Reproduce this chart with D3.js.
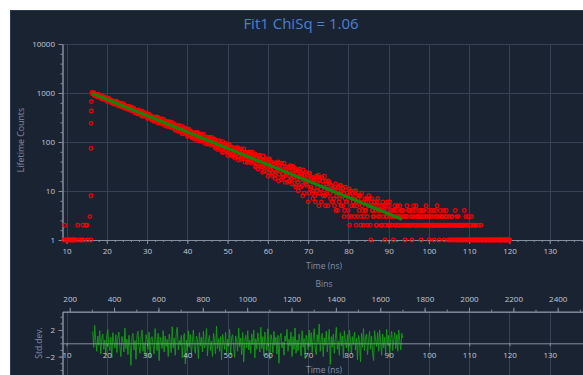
<!DOCTYPE html>
<html>
<head>
<meta charset="utf-8">
<script src="https://cdn.jsdelivr.net/npm/d3@7"></script>
<style>
  body { margin: 0; background: #fff; }
  svg { display: block; font-family: "Open Sans", sans-serif; }
</style>
</head>
<body>
<svg id="chart" width="583" height="375"></svg>
<script>
// ---- data ----
const title = 'Fit1 ChiSq = 1.06';
const timeTicks = [10, 20, 30, 40, 50, 60, 70, 80, 90, 100, 110, 120, 130];
const countTicks = [1, 10, 100, 1000, 10000];
const binTicks = [200, 400, 600, 800, 1000, 1200, 1400, 1600, 1800, 2000, 2200, 2400];
const residualTicks = [-2, 2];

// photon counts, one every 0.25 ns starting at 9.3 ns
const countStart = 9.3;
const countStep = 0.25;
const counts = [
  1, 2, 1, 1, 1, 1, 1, 1, 1, 1, 1, 1, 1, 0, 2, 1, 0, 1, 1, 2, 1, 0, 2, 2, 1, 0, 3, 1,
  1028, 947, 1015, 886, 932, 837, 931, 857, 876, 799, 885, 747, 793, 755, 796, 677,
  780, 688, 720, 648, 642, 677, 593, 681, 615, 665, 576, 597, 536, 594, 540, 603,
  490, 547, 511, 540, 465, 535, 458, 478, 485, 434, 484, 400, 436, 375, 443, 396,
  412, 363, 425, 335, 369, 347, 377, 300, 372, 314, 338, 292, 291, 317, 263, 325,
  283, 320, 262, 279, 240, 282, 248, 293, 218, 258, 237, 258, 210, 259, 209, 224,
  230, 197, 234, 178, 205, 165, 212, 182, 195, 163, 207, 147, 172, 158, 181, 129,
  180, 142, 160, 130, 130, 149, 114, 157, 130, 156, 118, 130, 104, 134, 112, 143,
  94, 123, 109, 124, 92, 126, 93, 104, 110, 89, 114, 77, 96, 70, 103, 83,
  92, 72, 102, 62, 80, 71, 87, 53, 88, 63, 75, 56, 56, 70, 47, 77,
  59, 77, 52, 61, 44, 64, 50, 72, 39, 59, 50, 61, 40, 63, 41, 49,
  53, 39, 57, 32, 45, 28, 51, 38, 45, 31, 52, 25, 37, 32, 43, 20,
  44, 27, 36, 23, 24, 34, 18, 38, 27, 39, 22, 29, 17, 32, 22, 37,
  15, 28, 23, 30, 16, 33, 18, 23, 26, 17, 29, 13, 22, 10, 26, 17,
  22, 13, 27, 9, 17, 14, 22, 6, 23, 11, 18, 9, 10, 16, 6, 20,
  12, 21, 9, 14, 6, 16, 9, 20, 5, 14, 10, 16, 15, 7, 11, 6,
  11, 5, 14, 8, 4, 12, 7, 13, 10, 5, 9, 4, 12, 6, 8, 3,
  2, 10, 5, 9, 7, 3, 10, 5, 3, 8, 6, 2, 9, 4, 3, 7,
  4, 7, 2, 8, 5, 1, 7, 4, 3, 6, 5, 2, 7, 4, 3, 5,
  2, 6, 4, 1, 5, 3, 6, 2, 6, 3, 2, 4, 3, 5, 2, 4,
  2, 3, 5, 3,
  4, 2, 3, 1, 3, 5, 2, 4, 2, 3, 1, 4, 3, 2, 5, 3,
  2, 4, 3, 1, 3, 2, 4, 2, 5, 3, 2, 1, 2, 4, 3, 2,
  1, 3, 2, 5, 2, 1, 4, 3, 2, 3, 1, 2, 4, 2, 1, 3,
  2, 1, 3, 2, 1, 4, 2, 1, 3, 2, 1, 2, 1, 2, 4, 1,
  2, 1, 3, 1, 1, 3, 1, 2, 1, 2, 1, 1, 2, 1, 0, 1,
  1, 1, 0, 1, 1, 0, 1, 1, 0, 1, 1, 0, 1, 1, 0, 1,
  1, 0, 1, 1, 1, 1, 0, 1, 1, 0, 1, 1
];

// the bins lying between those above, one every 0.25 ns starting at 16.425 ns
const countsBetweenStart = 16.425;
const countsBetween = [
  966, 1009, 885, 951, 875, 894, 940, 816, 859, 760, 839, 789, 830, 740, 761, 692,
  775, 689, 727, 629, 687, 613, 651, 611, 658, 553, 622, 574, 623, 531, 557, 517,
  563, 519, 470, 521, 479, 523, 440, 514, 445, 478, 398, 447, 400, 416, 450, 370,
  402, 338, 396, 365, 396, 338, 355, 312, 371, 316, 344, 280, 322, 275, 303, 279,
  314, 245, 295, 264, 300, 240, 259, 235, 269, 240, 209, 247, 219, 252, 198, 250,
  204, 229, 176, 211, 181, 193, 218, 165, 189, 147, 187, 168, 191, 152, 166, 138,
  180, 143, 164, 122, 152, 121, 142, 127, 151, 106, 141, 121, 146, 107, 121, 105,
  129, 111, 91, 117, 99, 123, 86, 123, 93, 110, 75, 99, 80, 89, 106, 72,
  89, 61, 89, 77, 93, 68, 78, 59, 88, 64, 79, 51, 72, 51, 66, 56,
  74, 43, 68, 55, 72, 46, 56, 46, 63, 51, 38, 56, 45, 61, 37, 62,
  42, 54, 31, 48, 35, 42, 54, 31, 42, 24, 43, 35, 46, 30, 37, 24,
  45, 28, 39, 20, 35, 21, 31, 25, 37, 16, 33, 25, 37, 19, 26, 20,
  31, 24, 15, 27, 20, 31, 14, 32, 19, 27, 12, 23, 15, 19, 28, 12,
  20, 8, 21, 16, 24, 13, 18, 9, 23, 12, 19, 7, 17, 8, 15, 10,
  19, 5, 17, 11, 19, 8, 12, 8, 16, 11, 5, 14, 9, 13, 6, 10,
  7, 12, 4, 9, 10, 6, 13, 5, 8, 11, 3, 7, 6, 9, 4, 11,
  8, 3, 7, 6, 5, 9, 2, 6, 7, 4, 8, 3, 5, 2, 6, 4,
  6, 3, 5, 7, 2, 6, 4, 3, 5, 4, 2, 6, 3, 5, 4, 2,
  4, 3, 5, 2, 3, 4, 2, 5, 2, 4, 3, 1, 4, 2, 3, 5,
  3, 2, 4, 2,
  3, 4, 2, 3, 2, 3, 4, 2, 4, 2, 3, 5, 2, 4, 2, 3,
  3, 2, 4, 2, 4, 3, 2, 3, 2, 3, 4, 2, 3, 2, 2, 4,
  2, 4, 3, 2, 3, 2, 2, 3, 2, 4, 2, 3, 3, 2, 2, 1,
  2, 3, 1, 2, 2, 1, 3, 2, 1, 2, 2, 1, 2, 1, 2, 3,
  1, 2, 1, 2, 2, 1, 1, 2, 1, 2, 1, 1, 1, 1, 2, 1,
  1, 0, 1, 1, 0, 1, 1, 1, 1, 1, 0, 1, 1, 0, 1, 1,
  1, 1, 1, 0, 0, 1, 1, 1, 1, 1, 0, 0
];

// rising edge, several bins inside one step
const edgeTimes = [16.08, 16.1, 16.12, 16.14, 16.16];
const edgeCounts = [8, 74, 240, 430, 667];

// fitted decay
const fitTimes = [16.36, 30, 40, 50, 60, 70, 80, 93.3];
const fitCounts = [986, 345, 160, 74, 34.4, 15.9, 7.4, 2.65];

// weighted residuals, one every 0.25 ns starting at 16.5 ns
const residualStart = 16.5;
const residualStep = 0.25;
const residuals = [
  1.8, -0.6, 2.7, 0.4, -1.2, 1.1, -0.3, 1.9, -1.6, 0.7, 1.4, -0.9,
  0.5, -1.8, 1.2, 2.1, -0.4, -1.1, 0.9, -2.2, 1.6, 0.2, -0.7, 1.3,
  -1.4, 0.8, 1.7, -0.5, -2.0, 1.0, 0.3, -1.3, 2.3, -0.8, 0.6, -1.7,
  1.2, -0.2, -3.3, 0.9, 1.5, -1.0, 0.4, -2.4, 1.1, 1.8, -0.6, -1.5,
  0.7, 2.0, -1.2, 0.1, -1.9, 1.3, 0.6, -0.9, 1.7, -2.1, 0.8, 1.0,
  -0.4, -1.6, 2.2, 0.3, -1.1, 1.5, -2.6, 0.9, 0.2, -0.8, 1.9, -1.3,
  1.1, -0.5, 0.6, -2.0, 1.4, 0.1, -1.4, 2.5, -0.7, 0.8, -1.8, 1.6,
  2.4, -1.0, 0.4, -0.3, 1.2, -2.2, 0.7, 1.5, -3.1, 0.5, -1.2, 1.9,
  -0.6, 1.3, -1.7, 0.2, 2.0, -0.9, -1.5, 1.1, 0.6, -2.3, 1.6, -0.4,
  0.9, -1.3, 1.8, -0.7, -0.2, 2.2, -1.9, 0.5, 1.2, -1.1, 0.3, -2.0,
  1.5, 0.4, -1.6, 2.6, -0.8, 0.7, -1.2, 1.0, -2.5, 1.4, 0.2, -0.9,
  1.7, -1.4, 0.6, -0.3, 2.1, -1.8, 0.9, 1.3, -0.6, -2.1, 1.1, 0.4,
  -1.2, 2.3, -0.5, 0.8, -1.7, 1.6, -2.8, 0.3, 1.2, -0.7, 1.9, -1.0,
  0.5, -1.5, 1.4, -0.2, 2.0, -2.2, 0.7, -0.9, 1.6, 0.1, -1.3, 2.4,
  -0.8, 1.0, -1.9, 1.7, 0.4, -1.1, 2.2, -0.5, -2.4, 1.3, 0.6, -1.4,
  1.8, -0.3, 0.9, -1.6, 1.2, -3.0, 0.8, 1.5, -0.7, 0.2, -1.8, 1.1,
  0.3, 2.1, -1.2, 0.6, -0.4, 1.7, -2.0, 1.0, -0.9, 2.3, -1.5, 0.5,
  -1.1, 1.4, 0.2, -1.9, 1.9, -0.6, 0.7, -2.3, 1.2, 0.4, -1.0, 2.0,
  -0.5, 1.6, -1.4, 0.9, 2.2, -0.8, -1.7, 1.3, 0.1, 2.9, -1.2, 0.6,
  1.5, -2.0, 0.8, -0.3, 1.8, -1.3, 0.5, 2.1, -3.2, 1.0, -0.6, 1.4,
  -1.5, 0.7, 2.4, -0.9, 0.3, -1.8, 1.6, -0.4, 1.1, -2.2, 1.9, 0.2,
  -0.7, 1.3, -1.2, 2.0, 0.5, -1.6, 1.0, -0.2, 1.7, -1.0, 0.8, -2.5,
  1.2, 0.4, -2.8, 1.5, -0.6, 2.2, -1.1, 0.9, 1.4, -1.7, 0.3, 1.8,
  -0.9, 1.1, -1.4, -2.6, 1.9, 0.6, -0.5, 1.6, -1.2, 2.0, 0.2, -1.8,
  1.4, -0.7, 0.9, -1.5, 2.1, -0.3, 1.2, -2.0, 0.7, 1.8, -1.1, 0.5,
  1.6, -0.8, 1.3, -1.2, 2.0, 0.4, -1.0, 1.5, 0.8
];

// ---- layout ----
const W = 583, H = 375;
const bg = '#1a2332', gridColor = '#364153', axisColor = '#858fa0';
const tickText = '#c3cad4', titleText = '#8090a6';

const svg = d3.select('#chart');
svg.append('rect').attr('x', 10).attr('y', 10).attr('width', W - 10).attr('height', H - 10).attr('fill', bg);
svg.append('path').attr('d', `M10.5,${H}V10.5H${W}`).attr('stroke', '#2a3a50').attr('fill', 'none');

svg.append('text').attr('x', 301).attr('y', 29).attr('text-anchor', 'middle')
  .attr('fill', '#4a80d2').attr('font-size', 15).text(title);

const x = d3.scaleLinear().domain([9, 139]).range([62.5, 586]);
const y = d3.scaleLog().domain([1, 10000]).range([240, 44]);
const xBins = d3.scaleLinear().domain([167.5, 2527.6]).range([62.5, 586]);
const yRes = d3.scaleLinear().domain([-4.75, 4.75]).range([374.9, 311.7]);

// grids
const grid = svg.append('g').attr('stroke', gridColor).attr('stroke-width', 1);
timeTicks.forEach(t => {
  const px = Math.round(x(t)) + 0.5;
  grid.append('line').attr('x1', px).attr('x2', px).attr('y1', y(10000)).attr('y2', y(1));
  grid.append('line').attr('x1', px).attr('x2', px).attr('y1', yRes.range()[1]).attr('y2', H);
});
countTicks.slice(1).forEach(c => {
  const py = Math.round(y(c)) + 0.5;
  grid.append('line').attr('x1', x.range()[0]).attr('x2', W).attr('y1', py).attr('y2', py);
});

function styleAxis(g) {
  g.select('.domain').attr('stroke', axisColor);
  g.selectAll('.tick line').attr('stroke', axisColor);
  g.selectAll('.tick text').attr('fill', tickText).attr('font-size', 8)
    .attr('font-family', '"Open Sans", sans-serif');
}

// main time axis
svg.append('g').attr('transform', 'translate(0,240)')
  .call(d3.axisBottom(x).tickValues(d3.range(10, 139, 2)).tickSize(2).tickFormat('').tickSizeOuter(0))
  .call(styleAxis);
svg.append('g').attr('transform', 'translate(0,240)')
  .call(d3.axisBottom(x).tickValues(timeTicks).tickSize(4).tickPadding(4).tickSizeOuter(0))
  .call(styleAxis);

// main count axis
const minorCounts = [];
[1, 10, 100, 1000].forEach(d => [0.2, 0.4, 0.6, 0.8].forEach(f => minorCounts.push(d * Math.pow(10, f))));
svg.append('g').attr('transform', 'translate(62.5,0)')
  .call(d3.axisLeft(y).tickValues(minorCounts).tickSize(2).tickFormat('').tickSizeOuter(0))
  .call(styleAxis);
svg.append('g').attr('transform', 'translate(62.5,0)')
  .call(d3.axisLeft(y).tickValues(countTicks).tickFormat(d3.format('d')).tickSize(4).tickPadding(3.5).tickSizeOuter(0))
  .call(styleAxis);

svg.append('text').attr('x', 324).attr('y', 268.5).attr('text-anchor', 'middle')
  .attr('fill', titleText).attr('font-size', 8.5).text('Time (ns)');
svg.append('text').attr('transform', 'translate(24,140) rotate(-90)').attr('text-anchor', 'middle')
  .attr('fill', titleText).attr('font-size', 8.8).text('Lifetime Counts');

// data points
const points = counts.map((c, i) => ({ t: countStart + i * countStep, c: c }))
  .concat(countsBetween.map((c, i) => ({ t: countsBetweenStart + i * countStep, c: c })))
  .concat(edgeTimes.map((t, i) => ({ t: t, c: edgeCounts[i] })))
  .filter(d => d.c > 0);
svg.append('g').selectAll('circle').data(points).join('circle')
  .attr('cx', d => x(d.t)).attr('cy', d => y(d.c)).attr('r', 1.8)
  .attr('fill', 'none').attr('stroke', '#ff0000').attr('stroke-width', 1.25);

// fit line
svg.append('path').datum(fitTimes.map((t, i) => [t, fitCounts[i]]))
  .attr('d', d3.line().x(d => x(d[0])).y(d => y(d[1])))
  .attr('fill', 'none').attr('stroke', '#0b8a0b').attr('stroke-width', 3);

// ---- residual panel ----
svg.append('text').attr('x', 324).attr('y', 287).attr('text-anchor', 'middle')
  .attr('fill', titleText).attr('font-size', 8.5).text('Bins');
svg.append('g').attr('transform', 'translate(0,311.7)')
  .call(d3.axisTop(xBins).tickValues(d3.range(200, 2501, 100)).tickSize(2).tickFormat('').tickSizeOuter(0))
  .call(styleAxis);
svg.append('g').attr('transform', 'translate(0,311.7)')
  .call(d3.axisTop(xBins).tickValues(binTicks).tickFormat(d3.format('d')).tickSize(4).tickPadding(5.5).tickSizeOuter(0))
  .call(styleAxis);

svg.append('g').attr('transform', 'translate(62.5,0)')
  .call(d3.axisLeft(yRes).tickValues(d3.range(-4, 5, 1)).tickSize(2).tickFormat('').tickSizeOuter(0))
  .call(styleAxis);
svg.append('g').attr('transform', 'translate(62.5,0)')
  .call(d3.axisLeft(yRes).tickValues(residualTicks).tickSize(4).tickPadding(3.5).tickSizeOuter(0))
  .call(styleAxis);

svg.append('text').attr('transform', 'translate(42,343) rotate(-90)').attr('text-anchor', 'middle')
  .attr('fill', titleText).attr('font-size', 8.5).text('Std.dev.');

svg.append('path').datum(residuals.map((r, i) => [residualStart + i * residualStep, r]))
  .attr('d', d3.line().x(d => x(d[0])).y(d => yRes(d[1])))
  .attr('fill', 'none').attr('stroke', '#12a012').attr('stroke-width', 0.9);

svg.append('g').attr('transform', `translate(0,${yRes(0)})`)
  .call(d3.axisBottom(x).tickValues(timeTicks).tickSize(3).tickPadding(6.5).tickSizeOuter(0))
  .call(styleAxis);

svg.append('text').attr('x', 324).attr('y', 373).attr('text-anchor', 'middle')
  .attr('fill', titleText).attr('font-size', 8.5).text('Time (ns)');
</script>
</body>
</html>
